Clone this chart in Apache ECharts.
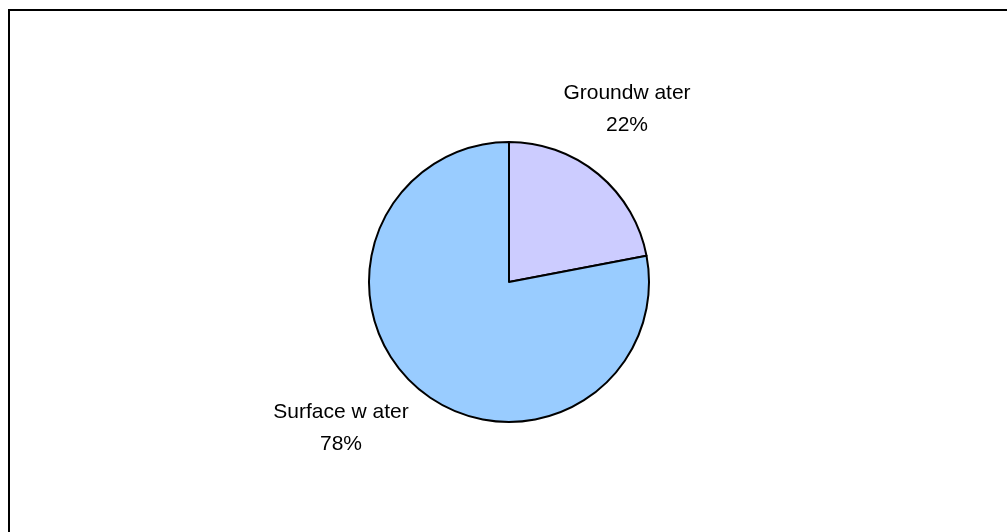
<!DOCTYPE html>
<html>
<head>
<meta charset="utf-8">
<script src="https://cdn.jsdelivr.net/npm/echarts@6/dist/echarts.min.js"></script>
<style>
  html, body { margin: 0; padding: 0; background: #ffffff; }
  #chart { width: 1007px; height: 532px; }
</style>
</head>
<body>
<div id="chart"></div>
<script>
// Water source shares
const categories = ['Groundw ater', 'Surface w ater'];
const shares = [22, 78];
const sliceColors = ['#CCCCFF', '#99CCFF'];

// Label anchor points (label centres)
const labelAnchors = [
  { x: 627, y: 109 },
  { x: 341, y: 428 }
];

const chart = echarts.init(document.getElementById('chart'), null, { renderer: 'canvas' });

chart.setOption({
  backgroundColor: '#ffffff',
  animation: false,
  graphic: [
    {
      type: 'rect',
      shape: { x: 9, y: 10, width: 1010, height: 540 },
      style: { fill: 'none', stroke: '#000000', lineWidth: 2 },
      silent: true
    }
  ],
  series: [
    {
      type: 'pie',
      center: [509, 282],
      radius: 140,
      startAngle: 90,
      clockwise: true,
      avoidLabelOverlap: false,
      itemStyle: { borderColor: '#000000', borderWidth: 2 },
      label: {
        show: true,
        position: 'outside',
        formatter: p => p.name + '\n' + p.value + '%',
        fontFamily: 'Liberation Sans, Arial, sans-serif',
        fontSize: 21,
        lineHeight: 32,
        color: '#000000',
        align: 'center'
      },
      labelLine: { show: false },
      labelLayout: params => {
        const a = labelAnchors[params.dataIndex];
        return { x: a.x, y: a.y, align: 'center', verticalAlign: 'middle' };
      },
      emphasis: { disabled: true },
      data: categories.map((name, i) => ({
        name,
        value: shares[i],
        itemStyle: { color: sliceColors[i] }
      }))
    }
  ]
});
</script>
</body>
</html>
